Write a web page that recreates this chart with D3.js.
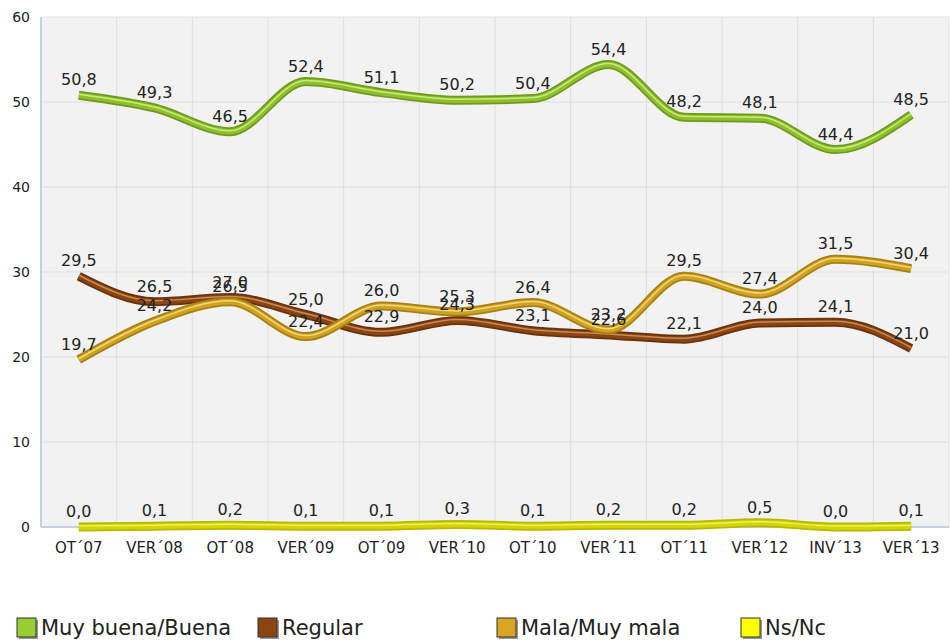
<!DOCTYPE html>
<html>
<head>
<meta charset="utf-8">
<script src="https://cdn.jsdelivr.net/npm/d3@7"></script>
<style>
  body { margin: 0; background: #fff; }
  text { font-family: "DejaVu Sans", Verdana, sans-serif; fill: #222; }
</style>
</head>
<body>
<div id="chart"></div>
<script>
// categories and series values
const periods = ["OT´07", "VER´08", "OT´08", "VER´09", "OT´09", "VER´10", "OT´10", "VER´11", "OT´11", "VER´12", "INV´13", "VER´13"];
const muyBuena = [50.8, 49.3, 46.5, 52.4, 51.1, 50.2, 50.4, 54.4, 48.2, 48.1, 44.4, 48.5];
const regular = [29.5, 26.5, 27.0, 25.0, 22.9, 24.3, 23.1, 22.6, 22.1, 24.0, 24.1, 21.0];
const mala = [19.7, 24.2, 26.5, 22.4, 26.0, 25.3, 26.4, 23.2, 29.5, 27.4, 31.5, 30.4];
const nsnc = [0.0, 0.1, 0.2, 0.1, 0.1, 0.3, 0.1, 0.2, 0.2, 0.5, 0.0, 0.1];
const yTicks = [0, 10, 20, 30, 40, 50, 60];

const series = [
    { name: "Muy buena/Buena", values: muyBuena, swatch: "#9acd32", dark: "#6f9a1e", mid: "#8fbf2c", light: "#c8ec7a" },
    { name: "Regular", values: regular, swatch: "#8b4513", dark: "#6a320c", mid: "#8b4513", light: "#c98a55" },
    { name: "Mala/Muy mala", values: mala, swatch: "#daa520", dark: "#a7800f", mid: "#cfa224", light: "#f2d877" },
    { name: "Ns/Nc", values: nsnc, swatch: "#ffff00", dark: "#b8b800", mid: "#d4d400", light: "#f0f060" }
];

const W = 951, H = 644;
const margin = { top: 17, right: 2, bottom: 117, left: 41 };
const width = W - margin.left - margin.right;
const height = H - margin.top - margin.bottom;

const svg = d3.select("#chart").append("svg")
    .attr("width", W)
    .attr("height", H);

const g = svg.append("g")
    .attr("transform", "translate(" + margin.left + "," + margin.top + ")");

const x = d3.scaleBand().domain(periods).range([0, width]);
const y = d3.scaleLinear().domain([0, 60]).range([height, 0]);
const cx = d => x(d) + x.bandwidth() / 2;

// plot background
g.append("rect")
    .attr("width", width)
    .attr("height", height)
    .attr("fill", "#f2f2f2")
    .attr("stroke", "#dfe3e8");

// horizontal grid
g.selectAll(".hgrid")
    .data(yTicks.slice(1, -1))
  .enter().append("line")
    .attr("x1", 0).attr("x2", width)
    .attr("y1", d => y(d)).attr("y2", d => y(d))
    .attr("stroke", "#dedede");

// vertical grid between categories
g.selectAll(".vgrid")
    .data(periods.slice(1))
  .enter().append("line")
    .attr("x1", d => x(d)).attr("x2", d => x(d))
    .attr("y1", 0).attr("y2", height)
    .attr("stroke", "#dedede");

// left and bottom axis lines
g.append("line").attr("x1", 0).attr("x2", 0).attr("y1", 0).attr("y2", height)
    .attr("stroke", "#c5d1e2").attr("stroke-width", 2);
g.append("line").attr("x1", 0).attr("x2", width).attr("y1", height).attr("y2", height)
    .attr("stroke", "#c5d1e2").attr("stroke-width", 2);

// y axis labels
const yAxis = d3.axisLeft(y).tickValues(yTicks).tickSize(0).tickPadding(11);
g.append("g").call(yAxis)
    .call(s => s.select(".domain").remove())
    .selectAll("text")
    .style("font-size", "14px")
    .attr("fill", "#222");

// x axis labels
const xAxis = d3.axisBottom(x).tickSize(0).tickPadding(15);
g.append("g")
    .attr("transform", "translate(0," + height + ")")
    .call(xAxis)
    .call(s => s.select(".domain").remove())
    .selectAll("text")
    .style("font-size", "15px")
    .attr("fill", "#222");

const line = d3.line()
    .x((d, i) => cx(periods[i]))
    .y(d => y(d))
    .curve(d3.curveMonotoneX);

const fmt = v => d3.format(".1f")(v).replace(".", ",");

// lines drawn as tubes: dark outline, main colour, highlight
series.forEach(s => {
    const lg = g.append("g");
    lg.append("path")
        .attr("d", line(s.values))
        .attr("fill", "none")
        .attr("stroke", s.dark)
        .attr("stroke-width", 9);
    lg.append("path")
        .attr("d", line(s.values))
        .attr("fill", "none")
        .attr("stroke", s.mid)
        .attr("stroke-width", 5.5);
    lg.append("path")
        .attr("d", line(s.values))
        .attr("transform", "translate(0,-1)")
        .attr("fill", "none")
        .attr("stroke", s.light)
        .attr("stroke-width", 1.5);
});

// data labels
series.forEach(s => {
    g.selectAll(null)
        .data(s.values)
      .enter().append("text")
        .attr("x", (d, i) => cx(periods[i]))
        .attr("y", d => y(d) - 10)
        .attr("text-anchor", "middle")
        .style("font-size", "16px")
        .text(d => fmt(d));
});

// legend
const legendX = [17, 258, 497, 741];
const legend = svg.selectAll(".legend")
    .data(series)
  .enter().append("g")
    .attr("transform", (d, i) => "translate(" + legendX[i] + ",618)");

legend.append("rect")
    .attr("x", 2).attr("y", 2)
    .attr("width", 19).attr("height", 19)
    .attr("fill", "#999");
legend.append("rect")
    .attr("width", 19).attr("height", 19)
    .attr("fill", d => d.swatch)
    .attr("stroke", "#333")
    .attr("stroke-width", 1);
legend.append("text")
    .attr("x", 24)
    .attr("y", 17)
    .style("font-size", "21px")
    .text(d => d.name);
</script>
</body>
</html>
